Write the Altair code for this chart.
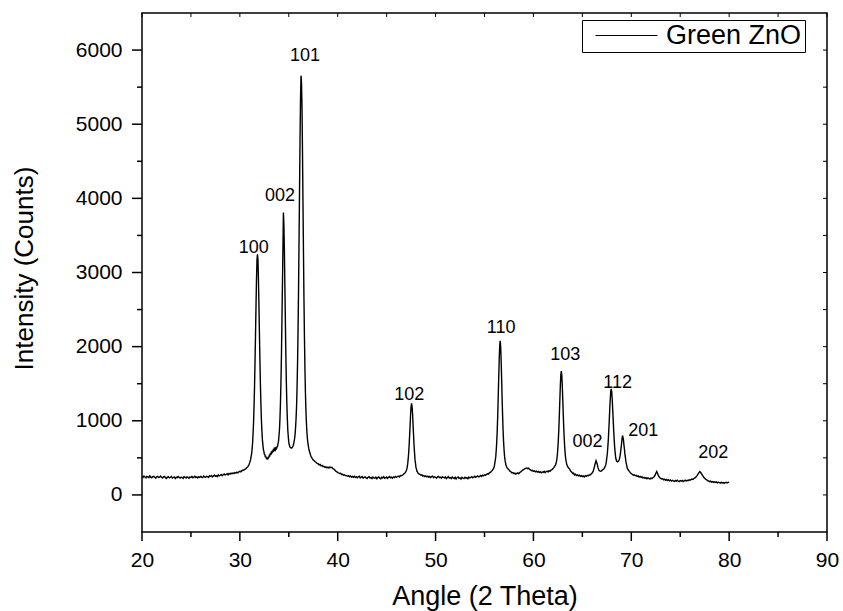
import altair as alt
import pandas as pd

FONT = "Liberation Sans"

# ---- XRD pattern (segments: start angle, step, intensities) ----
seg_a = [248, 236, 255, 241, 229, 250, 244, 233, 258, 240,
         231, 247, 252, 238, 226, 243, 249, 235, 241, 254,
         237, 228, 245, 251, 233, 222, 240, 246, 230, 238,
         249, 227, 235, 243, 221, 239, 232, 248, 236, 226,
         241, 234, 222, 247, 238, 229, 244, 236, 225, 242,
         237, 248, 231, 240, 252, 235, 243, 229, 246, 238,
         250, 241, 233, 255, 244, 238, 252, 246, 236, 258,
         249, 262, 243, 255, 267, 251, 260, 248, 270, 258,
         265, 276, 259, 272, 282, 268, 279, 286, 271, 290,
         281, 294, 285, 298, 288, 302, 295, 308, 298, 312,
         318, 312, 327, 333, 336, 345, 352, 366, 378, 398]
seg_b = [432, 458, 476, 517, 552, 620, 697, 824, 976, 1195,
         1460, 1792, 2158, 2549, 2897, 3168, 3245, 3172, 2905, 2566,
         2176, 1821, 1490, 1234, 1018, 872, 749, 681, 615, 590,
         549, 544, 516, 518, 495, 488, 494, 487, 505, 503,
         530, 526, 551, 548, 571, 562, 586, 581, 604, 597,
         622, 608, 626, 609, 634, 628, 650, 655, 691, 722,
         801, 882, 1034, 1236, 1526, 1884, 2338, 2817, 3300, 3810,
         3648, 3302, 2824, 2347, 1891, 1530, 1236, 1033, 874, 784,
         709, 676, 652, 641, 637, 632, 633, 642, 652, 668,
         690, 725, 766, 827, 923, 1045, 1212, 1469, 1807, 2255,
         2793, 3451, 4119, 4797, 5345, 5655, 5560, 5238, 4636, 3944,
         3283, 2652, 2130, 1710, 1380, 1150, 976, 850, 764, 703,
         657, 621, 592, 568, 547, 529, 514, 502, 491, 481,
         472]
seg_c = [462, 447, 438, 425, 421, 404, 411, 392, 398, 381,
         387, 372, 379, 366, 374, 362, 377, 368, 372, 356,
         349, 337, 321, 314, 302, 296, 288, 291, 276, 279,
         266, 271, 258, 263, 252, 259, 244, 256, 241, 249,
         238, 252, 236, 247, 231, 244, 253, 229, 240, 248,
         226, 238, 245, 230, 221, 239, 247, 228, 236, 220,
         242, 231, 225, 240, 218, 235, 244, 227, 219, 238,
         229, 246, 224, 233, 241, 222, 237, 248, 230, 239,
         226, 244, 235, 250, 238, 246, 255, 243, 262, 258,
         266, 276, 290, 298, 326]
seg_d = [343, 374, 418, 482, 566, 676, 807, 951, 1089, 1194,
         1234, 1188, 1095, 945, 812, 670, 571, 476, 424, 368,
         349, 318, 312, 294]
seg_e = [285, 279, 266, 271, 255, 262, 248, 257, 243, 252,
         239, 250, 236, 247, 254, 232, 245, 238, 226, 244,
         251, 233, 240, 224, 246, 237, 229, 243, 221, 236,
         248, 227, 234, 219, 241, 230, 222, 238, 216, 233,
         242, 224, 231, 214, 237, 228, 220, 239, 226, 234,
         218, 240, 229, 236, 247, 231, 240, 252, 238, 246,
         257, 243, 251, 262, 249, 266, 258, 271, 263, 279,
         286, 281, 297, 304, 318, 331, 352, 381]
seg_f = [425, 467, 516, 603, 712, 870, 1062, 1307, 1560, 1817,
         2000, 2078, 2006, 1818, 1571, 1302, 1071, 866, 721, 607,
         523, 465, 432, 401, 383, 369]
seg_g = [352, 338, 321, 312, 296, 301, 287, 294, 281, 290,
         298, 286, 303, 311, 322, 334, 341, 352, 358, 364,
         355, 361, 346, 338, 327, 331, 318, 325, 311, 320,
         307, 316, 302, 314, 299, 310, 305, 318, 301, 315,
         322, 310, 327, 319, 336, 342, 355, 372, 394]
seg_h = [402, 419, 446, 488, 549, 636, 752, 903, 1084, 1281,
         1471, 1616, 1670, 1614, 1473, 1278, 1086, 900, 754, 634,
         551, 486, 448, 417, 396, 381]
seg_i = [362, 349, 322, 311, 289, 293, 270, 279, 262, 271,
         258, 266, 251, 260, 247, 256, 243, 259, 250, 264,
         257, 271, 268, 282, 296, 318, 362, 418, 462, 425,
         368, 331, 320, 318, 331, 342, 352, 374, 408]
seg_j = [447, 501, 552, 641, 737, 870, 1004, 1159, 1288, 1396,
         1432, 1389, 1298, 1156, 1019, 870, 756, 646, 575, 510,
         477, 455, 452, 447, 452, 458, 470, 490, 527, 568,
         631, 684, 746, 801, 778, 741, 674, 617, 549, 503,
         449, 420, 386]
seg_k = [358, 336, 318, 301, 286, 279, 267, 272, 258, 263,
         249, 256, 241, 250, 236, 244, 229, 238, 225, 233,
         219, 230, 224, 214, 228, 220, 231, 242, 258, 289,
         316, 284, 252, 236, 222, 214, 221, 205, 213, 198,
         209, 194, 205, 190, 201, 186, 197, 189, 182, 195,
         184, 198, 187, 179, 193, 185, 196, 181, 190, 199,
         188, 197, 192, 204, 198, 207, 214, 209, 222, 231,
         240, 257, 276, 298, 316, 302, 281, 259, 238, 226,
         211, 204, 193, 188, 179, 186, 174, 181, 170, 177,
         168, 175, 163, 172, 166, 159, 170, 162, 168, 157,
         165, 171, 161, 168, 174]

segments = [
    (20.0, 0.1, seg_a), (31.0, 0.05, seg_b), (37.6, 0.1, seg_c),
    (47.05, 0.05, seg_d), (48.3, 0.1, seg_e), (56.05, 0.05, seg_f),
    (57.4, 0.1, seg_g), (62.25, 0.05, seg_h), (63.6, 0.1, seg_i),
    (67.45, 0.05, seg_j), (69.6, 0.1, seg_k),
]

series_name = "Green ZnO"
tick_name = "axis ticks"

rows = []
for start, step, vals in segments:
    for i, v in enumerate(vals):
        rows.append({"angle": round(start + i * step, 3), "counts": v,
                     "grp": "spectrum", "series": series_name, "w": 1.4})

# ---- peak (hkl) labels ----
peak_labels = ["100", "002", "101", "102", "110", "103", "002", "112", "201", "202"]
label_angle = [31.42, 34.11, 36.66, 47.30, 56.70, 63.25, 65.53, 68.61, 71.22, 78.38]
label_count = [3267, 3962, 5856, 1286, 2190, 1816, 646, 1448, 791, 498]
lab_df = pd.DataFrame({"lab": peak_labels, "angle": label_angle, "counts": label_count})

# ---- axis ranges and tick positions ----
X_MIN, X_MAX = 20, 90
Y_MIN, Y_MAX = -500, 6500
x_major = [20, 30, 40, 50, 60, 70, 80, 90]
x_minor = [25, 35, 45, 55, 65, 75, 85]
y_major = [0, 1000, 2000, 3000, 4000, 5000, 6000]
y_minor = [500, 1500, 2500, 3500, 4500, 5500]

W, H = 685, 519
PX_X = W / (X_MAX - X_MIN)      # pixels per degree
PX_Y = H / (Y_MAX - Y_MIN)      # pixels per count


def add_x_ticks(vals, base, length_px, direction, width, tag):
    for v in vals:
        for k in (0, 1):
            rows.append({"angle": v, "counts": base + k * direction * length_px / PX_Y,
                         "grp": f"{tag}{v}", "series": tick_name, "w": width})


def add_y_ticks(vals, base, length_px, direction, width, tag):
    for v in vals:
        for k in (0, 1):
            rows.append({"angle": base + k * direction * length_px / PX_X, "counts": v,
                         "grp": f"{tag}{v}", "series": tick_name, "w": width})


add_x_ticks(x_major, Y_MIN, 9, -1, 1.5, "bM")
add_x_ticks(x_minor, Y_MIN, 5, -1, 1.5, "bm")
add_x_ticks(x_major + x_minor, Y_MAX, 4, -1, 1.0, "t")
add_y_ticks(y_major, X_MIN, 10, -1, 1.5, "lM")
add_y_ticks(y_minor, X_MIN, 5, -1, 1.5, "lm")
add_y_ticks(y_major + y_minor, X_MAX, 4, -1, 1.0, "r")

df = pd.DataFrame(rows)

xs = alt.Scale(domain=[X_MIN, X_MAX], nice=False, zero=False)
ys = alt.Scale(domain=[Y_MIN, Y_MAX], nice=False, zero=False)

x_axis = alt.Axis(
    orient="bottom", values=x_major, format="d", ticks=False, labelFlush=False,
    labelPadding=17, labelFontSize=21, domain=False, grid=False,
    title="Angle (2 Theta)", titleFontSize=27, titleFontWeight="normal",
    titleBaseline="alphabetic", titleY=72)
y_axis = alt.Axis(
    orient="left", values=y_major, format="d", ticks=False, labelFlush=False,
    labelPadding=20, labelFontSize=21, domain=False, grid=False,
    title="Intensity (Counts)", titleFontSize=26, titleFontWeight="normal",
    titleAngle=270, titleBaseline="alphabetic", titleX=-110, titleY=255)

line = alt.Chart(df).mark_line(interpolate="linear", strokeCap="butt").encode(
    x=alt.X("angle:Q", scale=xs, axis=x_axis),
    y=alt.Y("counts:Q", scale=ys, axis=y_axis),
    detail="grp:N",
    strokeWidth=alt.StrokeWidth("w:Q", scale=None, legend=None),
    color=alt.Color("series:N", title=None,
                    scale=alt.Scale(domain=[series_name, tick_name], range=["black", "black"]),
                    legend=alt.Legend(
                        values=[series_name],
                        orient="none", legendX=440, legendY=7,
                        symbolType="stroke", symbolSize=3844, symbolStrokeWidth=1,
                        symbolOffset=10, labelOffset=8, labelFontSize=27,
                        labelFont=FONT, labelColor="black", clipHeight=25,
                        padding=3, strokeColor="black", fillColor="white",
                        labelExpr="datum.label + '\u00a0\u00a0\u00a0'", labelLimit=400)),
)

texts = alt.Chart(lab_df).mark_text(
    fontSize=18, font=FONT, color="black", align="center", baseline="alphabetic"
).encode(
    x=alt.X("angle:Q", scale=xs, axis=x_axis),
    y=alt.Y("counts:Q", scale=ys, axis=y_axis),
    text="lab:N",
)

chart = alt.layer(line, texts).properties(
    width=W, height=H,
    autosize=alt.AutoSizeParams(type="none"),
    padding={"left": 142, "top": 13, "right": 16, "bottom": 79},
).configure_view(
    stroke="black", strokeWidth=1.5
).configure_axis(
    labelFont=FONT, titleFont=FONT, labelColor="black", titleColor="black"
)

chart.save("out.html", embed_options={"renderer": "svg", "actions": False})
